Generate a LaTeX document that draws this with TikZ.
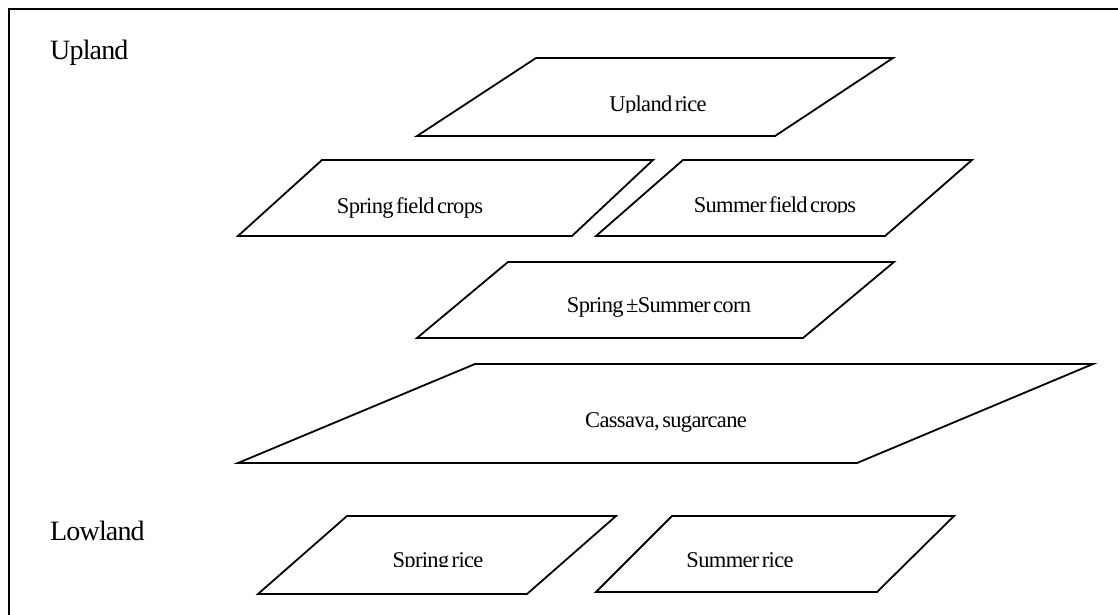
\documentclass[tikz,border=0pt]{standalone}
\usepackage{fontspec}
\setmainfont{Liberation Serif}[WordSpace=0.6]
\newfontfamily\plotfont{Liberation Serif}[LetterSpace=-3,WordSpace=0.5]
\begin{document}
\begin{tikzpicture}[x=1pt,y=-1pt,
  plotedge/.style={draw=black, line width=1.8pt, line join=miter},
  frameedge/.style={draw=black, line width=2pt},
  croplabel/.style={font=\plotfont\fontsize{22.5}{26}\selectfont, anchor=base, inner sep=0pt},
  zonelabel/.style={font=\plotfont\fontsize{28}{32}\selectfont, anchor=base west, inner sep=0pt}]
\useasboundingbox (0,0) rectangle (1118,615);
\clip (0,0) rectangle (1118,615);

% outer frame (runs off the right and bottom edges)
\draw[frameedge] (8.5,640) -- (8.5,9) -- (1140,9);

% zone labels
\node[zonelabel] (upland) at (50,60) {Upland};
\node[zonelabel] (lowland) at (50,540) {Lowland};

% upland plots
\draw[plotedge] (417,136) -- (536,58) -- (893,58) -- (775,136) -- cycle;
\begin{scope}
  \clip (0,0) rectangle (1118,112.5);
  \node[croplabel] (uprice) at (658,112) {Upland rice};
\end{scope}

\draw[plotedge] (238,236) -- (322,160) -- (653,160) -- (572,236) -- cycle;
\node[croplabel] (springfield) at (410,213) {Spring field crops};

\draw[plotedge] (596,236) -- (683,160) -- (972,160) -- (885,236) -- cycle;
\begin{scope}
  \clip (0,0) rectangle (1118,212.5);
  \node[croplabel] (summerfield) at (775,212) {Summer field crops};
\end{scope}

\draw[plotedge] (417,338) -- (508,262) -- (894,262) -- (803,338) -- cycle;
\node[croplabel] (corn) at (659,312) {Spring ±Summer corn};

\draw[plotedge] (238,463) -- (475,364) -- (1093,364) -- (857,463) -- cycle;
\node[croplabel] (cassava) at (666,427) {Cassava, sugarcane};

% lowland plots
\draw[plotedge] (258,594) -- (347,516) -- (616,516) -- (527,594) -- cycle;
\draw[plotedge] (596,592) -- (672,516) -- (954,516) -- (877,592) -- cycle;
\begin{scope}
  \clip (0,0) rectangle (1118,566);
  \node[croplabel] (springrice) at (438,567) {Spring rice};
  \node[croplabel] (summerrice) at (740,567) {Summer rice};
\end{scope}
\end{tikzpicture}
\end{document}
